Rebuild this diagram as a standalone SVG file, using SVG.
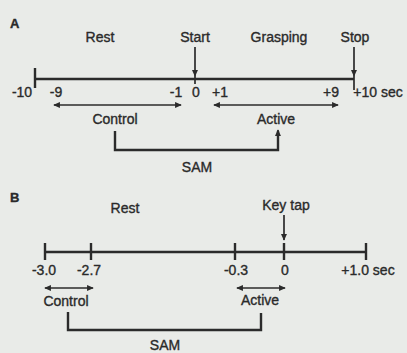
<svg xmlns="http://www.w3.org/2000/svg" width="407" height="353" viewBox="0 0 407 353">
<defs>
<marker id="ah" viewBox="0 0 8 8" refX="7" refY="4" markerWidth="4" markerHeight="4" orient="auto-start-reverse" markerUnits="strokeWidth">
<path d="M0,0.5 L8,4 L0,7.5 Z" fill="#2b2b2b"/>
</marker>
</defs>
<style>
text{font-family:"Liberation Sans",Arial,sans-serif;font-size:14px;fill:#2a2a2a;stroke:#2a2a2a;stroke-width:0.35;text-anchor:middle}
.lbl{font-weight:bold;text-anchor:start;font-size:13px}
.ln{stroke:#2b2b2b;stroke-width:2.4;fill:none}
.th{stroke:#2b2b2b;stroke-width:1.7;fill:none}
</style>
<rect width="407" height="353" fill="#e9ebe8"/>
<g id="panelA">
<text class="lbl" x="10" y="28">A</text>
<g id="A-rest"><text x="100" y="42">Rest</text></g>
<g id="A-start"><text x="195" y="42">Start</text></g>
<g id="A-grasping"><text x="279" y="42">Grasping</text></g>
<g id="A-stop"><text x="355" y="42">Stop</text></g>
<g id="A-ticks">
<text x="22" y="97">-10</text>
<text x="56" y="97">-9</text>
<text x="176" y="97">-1</text>
<text x="196" y="97">0</text>
<text x="220" y="97">+1</text>
<text x="331" y="97">+9</text>
<text x="378" y="97">+10 sec</text>
</g>
<g id="A-control"><text x="115" y="124">Control</text></g>
<g id="A-active"><text x="276" y="124">Active</text></g>
<g id="A-sam"><text x="197" y="172">SAM</text></g>
</g>
<g id="panelB">
<text class="lbl" x="10" y="202">B</text>
<g id="B-rest"><text x="125" y="213">Rest</text></g>
<g id="B-keytap"><text x="286" y="210">Key tap</text></g>
<g id="B-ticks">
<text x="44" y="275">-3.0</text>
<text x="89" y="275">-2.7</text>
<text x="236" y="275">-0.3</text>
<text x="285" y="275">0</text>
<text x="368" y="275">+1.0 sec</text>
</g>
<g id="B-control"><text x="66" y="306">Control</text></g>
<g id="B-active"><text x="260" y="305">Active</text></g>
<g id="B-sam"><text x="165" y="350">SAM</text></g>
</g>
<g id="connectors">
<line class="ln" x1="35" y1="79" x2="354" y2="79"/>
<line class="ln" x1="35" y1="68" x2="35" y2="88"/>
<line class="th" x1="195" y1="47" x2="195" y2="76" marker-end="url(#ah)"/>
<line class="th" x1="195" y1="76" x2="195" y2="84"/>
<line class="th" x1="354" y1="47" x2="354" y2="76" marker-end="url(#ah)"/>
<line class="th" x1="354" y1="76" x2="354" y2="90"/>
<line class="th" x1="54" y1="105" x2="181" y2="105" marker-start="url(#ah)" marker-end="url(#ah)"/>
<line class="th" x1="214" y1="105" x2="338" y2="105" marker-start="url(#ah)" marker-end="url(#ah)"/>
<polyline class="ln" points="115,131 115,150 278,150 278,131"/>
<line class="th" x1="278" y1="135" x2="278" y2="130" marker-end="url(#ah)"/>
<line class="ln" x1="45" y1="252" x2="366" y2="252"/>
<line class="ln" x1="45" y1="243" x2="45" y2="260"/>
<line class="ln" x1="91" y1="243" x2="91" y2="260"/>
<line class="ln" x1="235" y1="243" x2="235" y2="260"/>
<line class="ln" x1="284" y1="243" x2="284" y2="260"/>
<line class="ln" x1="366" y1="243" x2="366" y2="260"/>
<line class="th" x1="284" y1="215" x2="284" y2="240" marker-end="url(#ah)"/>
<line class="th" x1="45" y1="288" x2="93" y2="288" marker-start="url(#ah)" marker-end="url(#ah)"/>
<line class="th" x1="237" y1="288" x2="285" y2="288" marker-start="url(#ah)" marker-end="url(#ah)"/>
<polyline class="ln" points="68,312 68,330 261,330 261,313"/>
</g>
</svg>
